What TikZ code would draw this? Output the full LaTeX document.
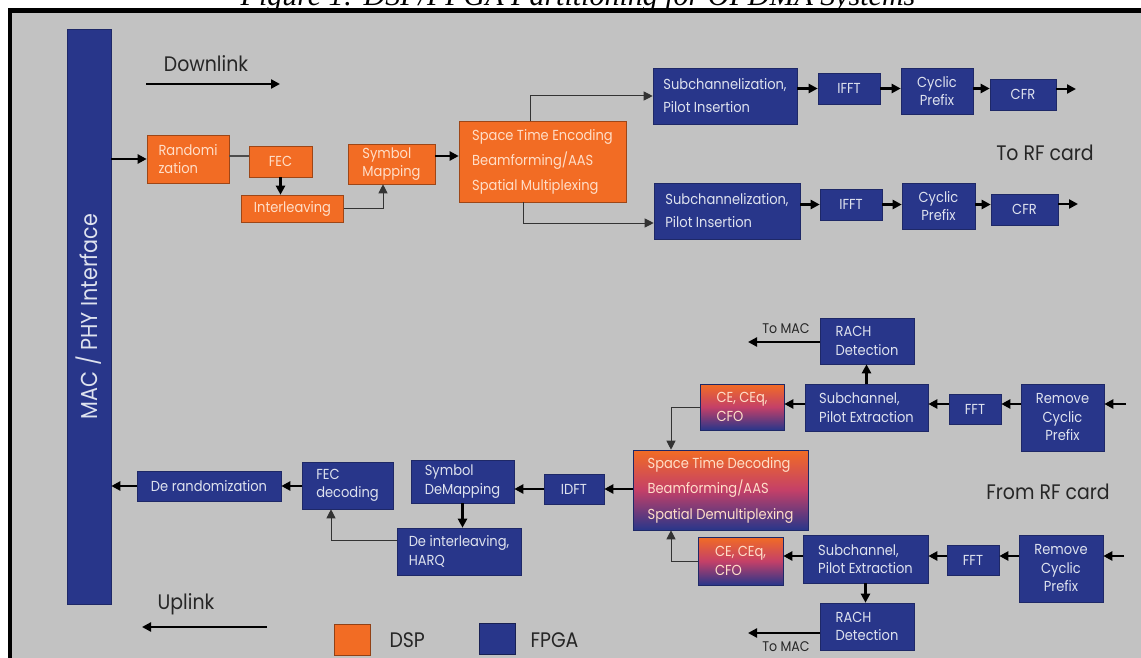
\documentclass[tikz,border=0pt]{standalone}
\usepackage{fontspec}
\setmainfont{Poppins}[FakeStretch=0.9]
\newfontfamily\capfont{Liberation Serif}
\usetikzlibrary{arrows.meta}

\definecolor{dsporange}{RGB}{242,108,36}
\definecolor{fpgablue}{RGB}{40,54,138}
\definecolor{mixred}{RGB}{196,64,104}
\definecolor{bggray}{RGB}{194,194,194}
\definecolor{dsptext}{RGB}{255,222,200}
\definecolor{fpgatext}{RGB}{222,226,238}

\newcommand{\blockfont}{\fontsize{14.5}{18.5}\selectfont}
\newcommand{\tagfont}{\fontsize{21}{24}\selectfont}

\tikzset{
  dspbox/.style={draw=dsporange!65!black, line width=.6pt, fill=dsporange,
    text=dsptext, font=\blockfont, align=left, inner sep=2pt},
  fpgabox/.style={draw=fpgablue!75!black, line width=.6pt, fill=fpgablue,
    text=fpgatext, font=\blockfont, align=left, inner sep=2pt},
  mixbox/.style={draw=fpgablue!75!black, line width=.6pt, top color=dsporange,
    bottom color=fpgablue, middle color=mixred, text=dsptext,
    font=\blockfont, align=left, inner sep=2pt},
  flow/.style={->, line width=2.4pt},
  link/.style={->, line width=1pt, black!80},
  tag/.style={font=\tagfont, text=black!85},
}

\begin{document}
\begin{tikzpicture}[x=1pt, y=-1pt, >={Triangle[length=9pt,width=9pt]}]
  \useasboundingbox (0,0) rectangle (1141,658);
  % frame and caption
  \fill[white] (0,0) rectangle (1141,658);
  \node[font=\capfont\itshape\fontsize{30}{30}\selectfont, anchor=base] (caption) at (578,5.5)
    {Figure 1: DSP/FPGA Partitioning for OFDMA Systems};
  \fill[black] (7.5,8.5) rectangle (1141,658);
  \fill[bggray] (12,13) rectangle (1141,658);

  % MAC / PHY bar
  \node[fpgabox, minimum width=44, minimum height=575, inner sep=0pt] (macphy) at (89,316.5) {};
  \node[rotate=90, text=fpgatext, font=\fontsize{23}{23}\selectfont] (macphytext) at (macphy) {MAC / PHY Interface};

  \node[tag] (downlink) at (206,64) {Downlink};
  \coordinate (dlstart) at (146,84);
  \coordinate (dlend) at (280,84);
  \node[tag] (uplink) at (186,604) {Uplink};
  \coordinate (ulstart) at (267,627);
  \coordinate (ulend) at (142,627);

  % downlink
  \node[dspbox, minimum width=82, minimum height=48] (rand) at (188,159) {Randomi\\zation};
  \node[dspbox, minimum width=63, minimum height=31, align=center] (fec) at (280.5,161.5) {FEC};
  \node[dspbox, minimum width=102, minimum height=27] (intl) at (292.5,208.5) {Interleaving};
  \node[dspbox, minimum width=87, minimum height=40] (symmap) at (391.5,164) {Symbol\\Mapping};
  \node[dspbox, minimum width=167, minimum height=81, font=\fontsize{14.5}{25}\selectfont] (ste) at (542.5,161.5)
    {Space Time Encoding\\Beamforming/AAS\\Spatial Multiplexing};

  \node[fpgabox, minimum width=144, minimum height=56, font=\fontsize{14.5}{23}\selectfont] (sub1) at (725,96)
    {Subchannelization,\\Pilot Insertion};
  \node[fpgabox, minimum width=62, minimum height=31, align=center] (ifft1) at (849,88.5) {IFFT};
  \node[fpgabox, minimum width=72, minimum height=46, align=center] (cp1) at (937,91) {Cyclic\\Prefix};
  \node[fpgabox, minimum width=66, minimum height=31, align=center] (cfr1) at (1023,94.5) {CFR};
  \coordinate (out1) at (1076,89);

  \node[fpgabox, minimum width=146, minimum height=56, font=\fontsize{14.5}{23}\selectfont] (sub2) at (727,211)
    {Subchannelization,\\Pilot Insertion};
  \node[fpgabox, minimum width=62, minimum height=31, align=center] (ifft2) at (851,204.5) {IFFT};
  \node[fpgabox, minimum width=73, minimum height=46, align=center] (cp2) at (938.5,206) {Cyclic\\Prefix};
  \node[fpgabox, minimum width=67, minimum height=31, align=center] (cfr2) at (1024.5,209.5) {CFR};
  \coordinate (out2) at (1078,204);

  \node[tag] (torf) at (1045,153) {To RF card};

  % uplink
  \node[fpgabox, minimum width=94, minimum height=46] (rach1) at (867,341) {RACH\\Detection};
  \node[fpgabox, minimum width=123, minimum height=47] (sub1u) at (866.5,407.5) {Subchannel,\\Pilot Extraction};
  \node[mixbox, minimum width=84, minimum height=46] (ce1) at (742,407) {CE, CEq,\\CFO};
  \node[fpgabox, minimum width=52, minimum height=30, align=center] (fft1) at (975,409) {FFT};
  \node[fpgabox, minimum width=83, minimum height=67, align=center] (rcp1) at (1062.5,417.5) {Remove\\Cyclic\\Prefix};
  \coordinate (in1) at (1126,404);
  \coordinate (mac1) at (748,342);
  \node[font=\fontsize{14}{14}\selectfont, text=black!85] (tomac1) at (786,329) {To MAC};

  \node[mixbox, minimum width=175, minimum height=80, font=\fontsize{14.5}{25.5}\selectfont] (std) at (720.5,490)
    {Space Time Decoding\\Beamforming/AAS\\Spatial Demultiplexing};
  \node[tag] (fromrf) at (1048,492) {From RF card};

  \node[mixbox, minimum width=85, minimum height=48] (ce2) at (740.5,561) {CE, CEq,\\CFO};
  \node[fpgabox, minimum width=125, minimum height=48] (sub2u) at (865.5,559) {Subchannel,\\Pilot Extraction};
  \node[fpgabox, minimum width=52, minimum height=30, align=center] (fft2) at (973,560) {FFT};
  \node[fpgabox, minimum width=84, minimum height=67, align=center] (rcp2) at (1061,568.5) {Remove\\Cyclic\\Prefix};
  \node[fpgabox, minimum width=94, minimum height=47] (rach2) at (867,626.5) {RACH\\Detection};
  \coordinate (in2) at (1124,556);
  \coordinate (mac2) at (748,633);
  \node[font=\fontsize{14}{14}\selectfont, text=black!85] (tomac2) at (786,647) {To MAC};

  \node[fpgabox, minimum width=60, minimum height=30, align=center] (idft) at (574,489) {IDFT};
  \node[fpgabox, minimum width=103, minimum height=43] (symdemap) at (462.5,481.5) {Symbol\\DeMapping};
  \node[fpgabox, minimum width=124, minimum height=47] (deintl) at (459,551.5) {De interleaving,\\HARQ};
  \node[fpgabox, minimum width=91, minimum height=47] (fecdec) at (347.5,485.5) {FEC\\decoding};
  \node[fpgabox, minimum width=144, minimum height=30] (derand) at (209,486) {De randomization};

  % legend
  \node[fill=dsporange, draw=dsporange!60!black, minimum width=36, minimum height=31, inner sep=0pt] (dspkey) at (352,639.5) {};
  \node[tag, anchor=west] (dsplabel) at (386,640) {DSP};
  \node[fill=fpgablue, draw=fpgablue!60!black, minimum width=36, minimum height=31, inner sep=0pt] (fpgakey) at (497,639) {};
  \node[tag, anchor=west] (fpgalabel) at (527,640) {FPGA};

  % downlink connectors
  \draw[flow] (dlstart) -- (dlend);
  \draw[flow] (macphy.east |- rand.west) -- (rand.west);
  \draw[line width=1.4pt, gray!60!black] ([yshift=3pt]rand.east) -- ([yshift=3pt]rand.east -| fec.west);
  \draw[flow] (fec.south) -- (fec.south |- intl.north);
  \draw[link] (intl.east) -| ([xshift=-8.5pt]symmap.south);
  \draw[flow] ([yshift=8pt]symmap.east) -- ([yshift=5.5pt]ste.west);
  \draw[link] ([xshift=-12.5pt]ste.north) |- (sub1.west);
  \draw[link] ([xshift=-19.5pt]ste.south) |- ([yshift=-12pt]sub2.west);

  \draw[flow] (sub1.east |- ifft1.west) -- (ifft1.west);
  \draw[flow] (ifft1.east) -- (ifft1.east -| cp1.west);
  \draw[flow] (cp1.east |- ifft1.east) -- (cfr1.west |- ifft1.east);
  \draw[flow] (cfr1.east |- out1) -- (out1);
  \draw[flow] (sub2.east |- ifft2.west) -- (ifft2.west);
  \draw[flow] (ifft2.east) -- (ifft2.east -| cp2.west);
  \draw[flow] (cp2.east |- ifft2.east) -- (cfr2.west |- ifft2.east);
  \draw[flow] (cfr2.east |- out2) -- (out2);

  % uplink connectors
  \draw[flow] (in1) -- (in1 -| rcp1.east);
  \draw[flow] (rcp1.west |- in1) -- (fft1.east |- in1);
  \draw[flow] (fft1.west |- in1) -- (sub1u.east |- in1);
  \draw[flow] (sub1u.west |- in1) -- (ce1.east |- in1);
  \draw[flow] (sub1u.north) -- (sub1u.north |- rach1.south);
  \draw[flow] (rach1.west |- mac1) -- (mac1);
  \draw[link] (ce1.west) -| ([xshift=-49.5pt]std.north);

  \draw[flow] (in2) -- (in2 -| rcp2.east);
  \draw[flow] (rcp2.west |- in2) -- (fft2.east |- in2);
  \draw[flow] (fft2.west |- in2) -- (sub2u.east |- in2);
  \draw[flow] (sub2u.west |- in2) -- (ce2.east |- in2);
  \draw[flow] (sub2u.south) -- (sub2u.south |- rach2.north);
  \draw[flow] (rach2.west |- mac2) -- (mac2);
  \draw[link] (ce2.west) -| ([xshift=-49.5pt]std.south);

  \draw[flow] (std.west |- idft.east) -- (idft.east);
  \draw[flow] (idft.west) -- (idft.west -| symdemap.east);
  \draw[flow] (symdemap.south) -- (symdemap.south |- deintl.north);
  \draw[link] ([yshift=11.5pt]deintl.west) -| ([xshift=-16.5pt]fecdec.south);
  \draw[flow] (fecdec.west |- derand.east) -- (derand.east);
  \draw[flow] (derand.west) -- (derand.west -| macphy.east);
  \draw[flow] (ulstart) -- (ulend);
\end{tikzpicture}
\end{document}
